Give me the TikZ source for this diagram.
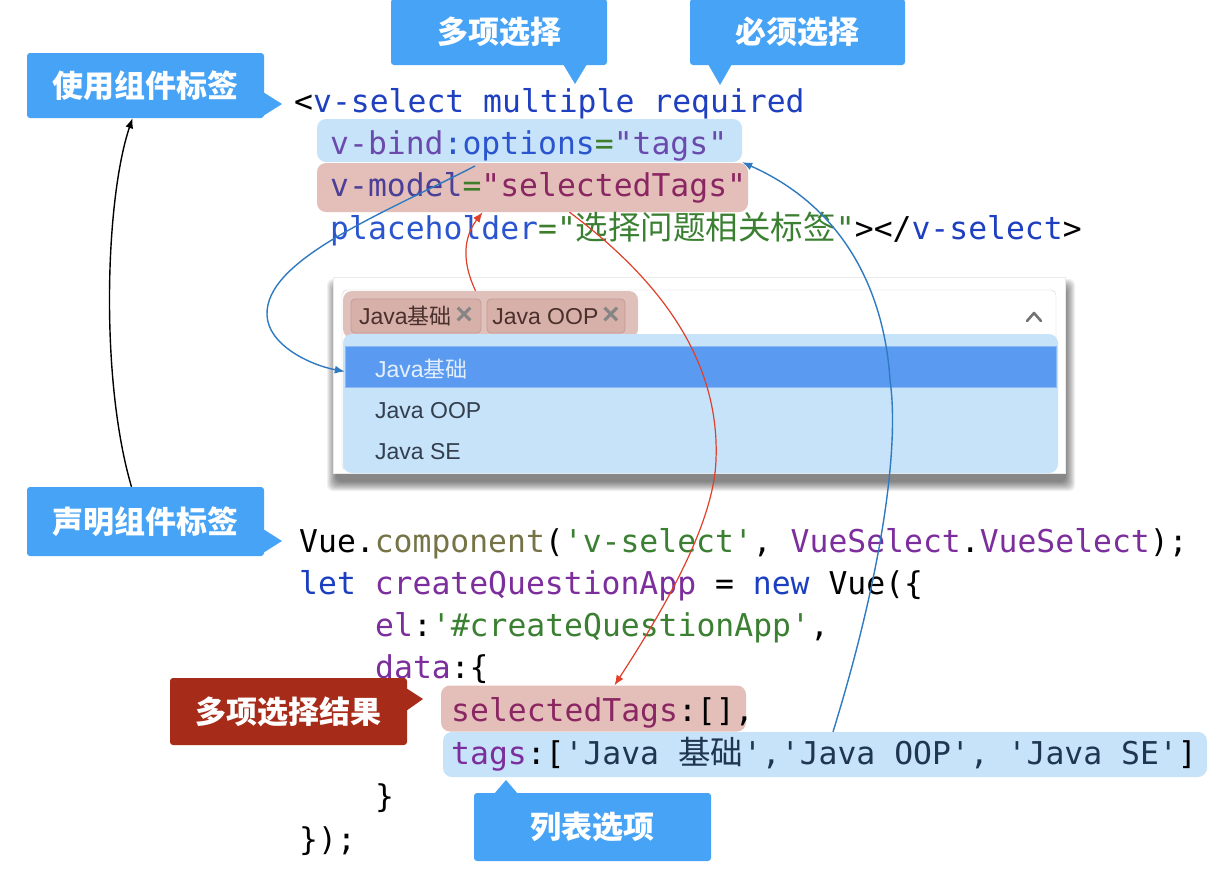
\documentclass[tikz,border=0pt]{standalone}
\usepackage{fontspec}
\setmainfont{Liberation Sans}
\newfontfamily\codefont{DejaVu Sans Mono}
\newfontfamily\cjk{Noto Sans CJK SC}
\usetikzlibrary{arrows.meta}
\definecolor{tagblue}{HTML}{1E3FBF}
\definecolor{attrblue}{HTML}{2B55CF}
\definecolor{attrpurple}{HTML}{6A4AAD}
\definecolor{modelnavy}{HTML}{4B3F98}
\definecolor{eqgreen}{HTML}{3E7D2A}
\definecolor{strmaroon}{HTML}{8A2662}
\definecolor{strgreen}{HTML}{3B8032}
\definecolor{fnolive}{HTML}{767447}
\definecolor{varpurple}{HTML}{7B2E9C}
\definecolor{kwblue}{HTML}{1B3FC0}
\definecolor{arrnavy}{HTML}{1F3550}
\definecolor{hlblue}{HTML}{C6E3FA}
\definecolor{hlpink}{HTML}{E4BFB9}
\definecolor{callblue}{HTML}{46A3F5}
\definecolor{callred}{HTML}{A62B19}
\definecolor{itemblue}{HTML}{5A9BF1}
\definecolor{chipfill}{HTML}{D8B0AA}
\definecolor{chipline}{HTML}{C29C96}
\definecolor{chiptext}{HTML}{4A302C}
\definecolor{listtext}{HTML}{333F4D}
\definecolor{linkblue}{HTML}{2F7AC0}
\definecolor{linkred}{HTML}{E0402A}
\newcommand*{\tok}[2]{\textcolor{#1}{#2}}
\newcommand*{\zh}[1]{{\cjk\fontsize{32.5}{38}\selectfont #1}}
\newcommand*{\zhs}[1]{{\cjk\fontsize{22}{26}\selectfont #1}}
\newcommand*{\chipx}{\textcolor{black!48}{\fontsize{30}{26}\selectfont\bfseries ×}}
\tikzset{
  callout/.style={fill=callblue, text=white, rounded corners=3pt, inner sep=0pt,
    font=\cjk\bfseries\fontsize{31}{31}\selectfont},
  codeline/.style={anchor=base west, inner sep=0pt,
    font=\codefont\fontsize{31.4}{38}\selectfont},
  hl/.style={rounded corners=9pt, inner sep=0pt},
  chip/.style={fill=chipfill, draw=chipline, line width=0.8pt, rounded corners=4pt,
    inner sep=0pt, text=chiptext, font=\fontsize{23}{26}\selectfont},
  itemtext/.style={anchor=base west, inner sep=0pt, text=listtext,
    font=\fontsize{23}{26}\selectfont},
  link/.style={line width=1.4pt, -{Latex[length=10pt,width=8pt]}},
}
\begin{document}
\begin{tikzpicture}[x=1pt,y=-1pt]
		\useasboundingbox (0,0) rectangle (1224,887);
		\fill[white] (0,0) rectangle (1224,887);
		% highlights behind the code
		\node[hl, fill=hlblue, minimum width=425pt, minimum height=43pt] (bind) at (529.5,140.5) {};
		\node[hl, fill=hlpink, minimum width=431pt, minimum height=49pt] (model) at (532.5,187.5) {};
		\node[hl, fill=hlblue, minimum width=764pt, minimum height=45pt] (tags) at (825,754.5) {};
		\node[hl, fill=hlpink, minimum width=305pt, minimum height=46pt] (sel) at (593.5,708.5) {};
		% template
		\node[codeline] (l1) at (294,112) {<\tok{tagblue}{v-select multiple required}};
		\node[codeline] (l2) at (330,154) {\tok{attrpurple}{v-bind}\tok{attrblue}{:options}\tok{eqgreen}{=}\tok{attrpurple}{"tags"}};
		\node[codeline] (l3) at (330,196) {\tok{modelnavy}{v-model}\tok{eqgreen}{=}\tok{strmaroon}{"selectedTags"}};
		\node[codeline] (l4) at (330,239) {\tok{attrblue}{placeholder}\tok{eqgreen}{=}\tok{strgreen}{"\zh{选择问题相关标签}"}></\tok{tagblue}{v-select}>};
		% script
		\node[codeline] (b1) at (299,552) {Vue.\tok{fnolive}{component}(\tok{strgreen}{'v-select'}, \tok{varpurple}{VueSelect}.\tok{varpurple}{VueSelect});};
		\node[codeline] (b2) at (299,594) {\tok{kwblue}{let} \tok{varpurple}{createQuestionApp} = \tok{kwblue}{new} Vue(\{};
		\node[codeline] (b3) at (375,636) {\tok{varpurple}{el}:\tok{strgreen}{'\#createQuestionApp'},};
		\node[codeline] (b4) at (375,678) {\tok{varpurple}{data}:\{};
		\node[codeline] (b5) at (451,721) {\tok{strmaroon}{selectedTags}:[],};
		\node[codeline] (b6) at (451,764) {\tok{varpurple}{tags}:[\tok{arrnavy}{'Java \zh{基础}','Java OOP', 'Java SE'}]};
		\node[codeline] (b7) at (375,807) {\}};
		\node[codeline] (b8) at (299,850) {\});};
		% dropdown
		\foreach \i in {0,...,9}
			\fill[black, opacity=0.06, rounded corners=6pt] (336-\i,288-\i) rectangle (1066+\i,482+\i);
		\node[fill=white, draw=black!8, inner sep=0pt, minimum width=732pt, minimum height=196pt] (dropbox) at (699,375.5) {};
		\node[draw=black!18, rounded corners=5pt, inner sep=0pt, minimum width=714pt, minimum height=180pt] (input) at (699,380) {};
		\node[hl, fill=chipfill!80!white, minimum width=295pt, minimum height=47pt] (chips) at (490.5,314.5) {};
		\node[chip, minimum width=130pt, minimum height=34pt] (chipa) at (416,316) {Java\zhs{基础}\,\chipx};
		\node[chip, minimum width=138pt, minimum height=34pt] (chipb) at (556,316) {Java OOP\,\chipx};
		\draw[black!55, line width=2.6pt, line cap=round, line join=round] (1027,321) -- (1034,313) -- (1041,321);
		\node[hl, fill=hlblue, minimum width=715pt, minimum height=139pt] (list) at (700.5,403.5) {};
		\node[fill=itemblue, draw=itemblue!70!white, inner sep=0pt, minimum width=711pt, minimum height=41pt] (itema) at (700.5,366.5) {};
		\node[itemtext, text=white!85!itemblue] (ta) at (375,377) {Java\zhs{基础}};
		\node[itemtext] (tb) at (375,418) {Java OOP};
		\node[itemtext] (tc) at (375,459) {Java SE};
		% callouts
		\node[callout, minimum width=237pt, minimum height=65pt] (use) at (145.5,85.5) {使用组件标签};
		\fill[callblue] (263,92) -- (282,104) -- (263,116) -- cycle;
		\node[callout, minimum width=237pt, minimum height=69pt] (decl) at (145.5,521.5) {声明组件标签};
		\fill[callblue] (263,529) -- (282,541) -- (263,553) -- cycle;
		\node[callout, minimum width=216pt, minimum height=66pt] (multi) at (499,32) {多项选择};
		\fill[callblue] (563,64) -- (575,84) -- (587,64) -- cycle;
		\node[callout, minimum width=215pt, minimum height=66pt] (req) at (797.5,32) {必须选择};
		\fill[callblue] (708,64) -- (720,85) -- (732,64) -- cycle;
		\node[callout, fill=callred, minimum width=237pt, minimum height=67pt] (result) at (288.5,711.5) {多项选择结果};
		\fill[callred] (406,688) -- (423,699) -- (406,711) -- cycle;
		\node[callout, minimum width=237pt, minimum height=68pt] (opts) at (592.5,827) {列表选项};
		\fill[callblue] (494,794) -- (506,780) -- (518,794) -- cycle;
		% links
		\coordinate (modelpt) at (475,166);
		\draw[link] ([xshift=-14pt]decl.north) .. controls (100,380) and (105,200) .. ([xshift=-13pt]use.south);
		\draw[link, linkblue] (modelpt) .. controls (380,215) and (265,260) .. (267,315)
			.. controls (268,345) and (310,365) .. ([yshift=-5pt]itema.west);
		\draw[link, linkred, line width=1.2pt] ([xshift=-15pt]chips.north) .. controls (462,262) and (463,238) .. ([xshift=-50pt]model.south);
		\draw[link, linkred, line width=1.2pt] ([xshift=37pt]model.south) .. controls (660,280) and (720,360) .. (716,460)
			.. controls (714,520) and (670,600) .. ([xshift=21pt]sel.north);
		\draw[link, linkblue] ([xshift=8pt]tags.north) .. controls (880,580) and (900,450) .. (890,380)
			.. controls (885,300) and (850,210) .. (bind.south east);
	\end{tikzpicture}
\end{document}
